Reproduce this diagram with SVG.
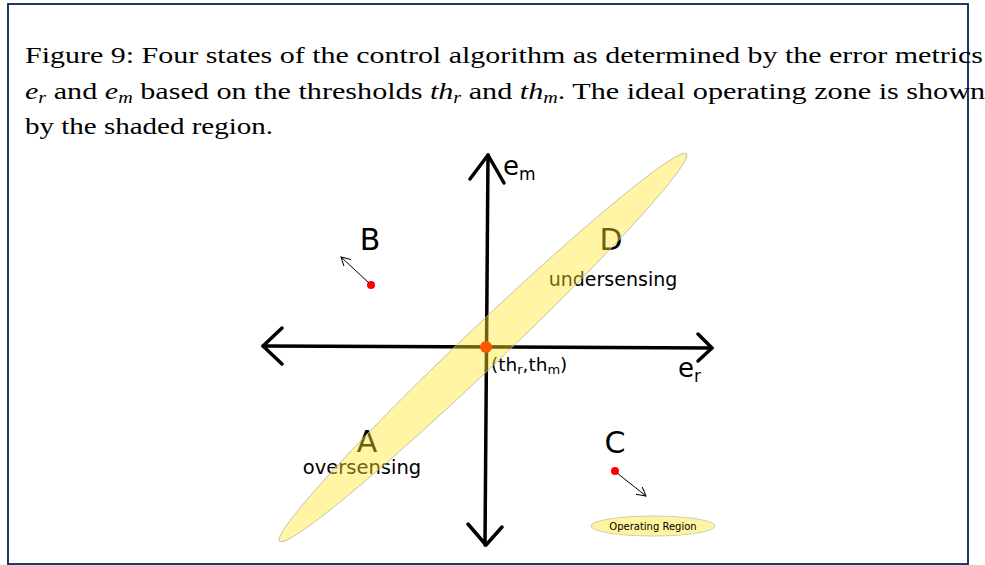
<svg xmlns="http://www.w3.org/2000/svg" width="985" height="565" viewBox="0 0 985 565">
<style>
.cap{font-family:"Liberation Serif","DejaVu Serif",serif;font-size:24px;fill:#000}
.lbl{font-family:"DejaVu Sans","Noto Sans",sans-serif;fill:#000}
.ax{fill:none;stroke:#000;stroke-width:3.5;stroke-linecap:round;stroke-linejoin:round}
.thin{fill:none;stroke:#000;stroke-width:1}
.it{font-style:italic}
</style>
<defs>
<marker id="open" viewBox="0 0 10 10" refX="9" refY="5" markerWidth="10" markerHeight="10" markerUnits="userSpaceOnUse" orient="auto">
<path d="M0,0 L9,5 L0,10" fill="none" stroke="#000" stroke-width="1"/>
</marker>
</defs>
<rect x="0" y="0" width="985" height="565" fill="#fff"/>
<rect x="8" y="4" width="960" height="560" fill="none" stroke="#1a3a6a" stroke-width="2"/>
<g id="caption">
<text class="cap" x="25" y="63" textLength="958" lengthAdjust="spacingAndGlyphs">Figure 9: Four states of the control algorithm as determined by the error metrics</text>
<text class="cap" x="25" y="99" textLength="960" lengthAdjust="spacingAndGlyphs"><tspan class="it">e</tspan><tspan class="it" font-size="16" dy="4">r</tspan><tspan dy="-4"> and </tspan><tspan class="it">e</tspan><tspan class="it" font-size="16" dy="4">m</tspan><tspan dy="-4"> based on the thresholds </tspan><tspan class="it">th</tspan><tspan class="it" font-size="16" dy="4">r</tspan><tspan dy="-4"> and </tspan><tspan class="it">th</tspan><tspan class="it" font-size="16" dy="4">m</tspan><tspan dy="-4">. The ideal operating zone is shown</tspan></text>
<text class="cap" x="25" y="134" textLength="248" lengthAdjust="spacingAndGlyphs">by the shaded region.</text>
</g>
<g id="labels">
<text class="lbl" x="370" y="250" font-size="30" text-anchor="middle">B</text>
<text class="lbl" x="611" y="250" font-size="30" text-anchor="middle">D</text>
<text class="lbl" x="613" y="286" font-size="19" text-anchor="middle">undersensing</text>
<text class="lbl" x="367" y="452" font-size="30" text-anchor="middle">A</text>
<text class="lbl" x="362" y="474" font-size="19.5" text-anchor="middle">oversensing</text>
<text class="lbl" x="615" y="453" font-size="30" text-anchor="middle">C</text>
</g>
<g id="axes">
<line class="ax" x1="488" y1="155" x2="485" y2="545"/>
<polyline class="ax" points="470,179 488,155 504,183"/>
<polyline class="ax" points="468,524 486,545 502,527"/>
<line class="ax" x1="263" y1="346" x2="712" y2="348"/>
<polyline class="ax" points="282,328 263,346 282,364"/>
<polyline class="ax" points="698,334 712,348 698,361"/>
<text class="lbl" x="503" y="175" font-size="26">e<tspan font-size="17" dy="5">m</tspan></text>
<text class="lbl" x="678" y="377" font-size="26">e<tspan font-size="17" dy="5">r</tspan></text>
<text class="lbl" x="491" y="371" font-size="18.5">(th<tspan font-size="13" dy="3">r</tspan><tspan dy="-3">,th</tspan><tspan font-size="13" dy="3">m</tspan><tspan dy="-3">)</tspan></text>
</g>
<g id="operating-zone">
<ellipse cx="483" cy="347.5" rx="281" ry="20" transform="rotate(-43.6 483 347.5)" fill="#ffe628" fill-opacity="0.42" stroke="#b8b8a0" stroke-width="0.8"/>
</g>
<g id="threshold-point">
<circle cx="486" cy="347" r="6" fill="#ff5500"/>
</g>
<g id="state-B">
<circle cx="371" cy="285" r="4" fill="#ff0000"/>
</g>
<g id="state-C">
<circle cx="615" cy="471" r="4" fill="#ff0000"/>
</g>
<g id="connectors">
<line class="thin" x1="369" y1="283" x2="341" y2="257" marker-end="url(#open)"/>
<line class="thin" x1="617" y1="473" x2="646" y2="496" marker-end="url(#open)"/>
</g>
<g id="legend">
<ellipse cx="653" cy="526" rx="62" ry="10" fill="#fff5a0" stroke="#c0c0b0" stroke-width="0.8"/>
<text class="lbl" x="653" y="530" font-size="10" text-anchor="middle">Operating Region</text>
</g>
</svg>
